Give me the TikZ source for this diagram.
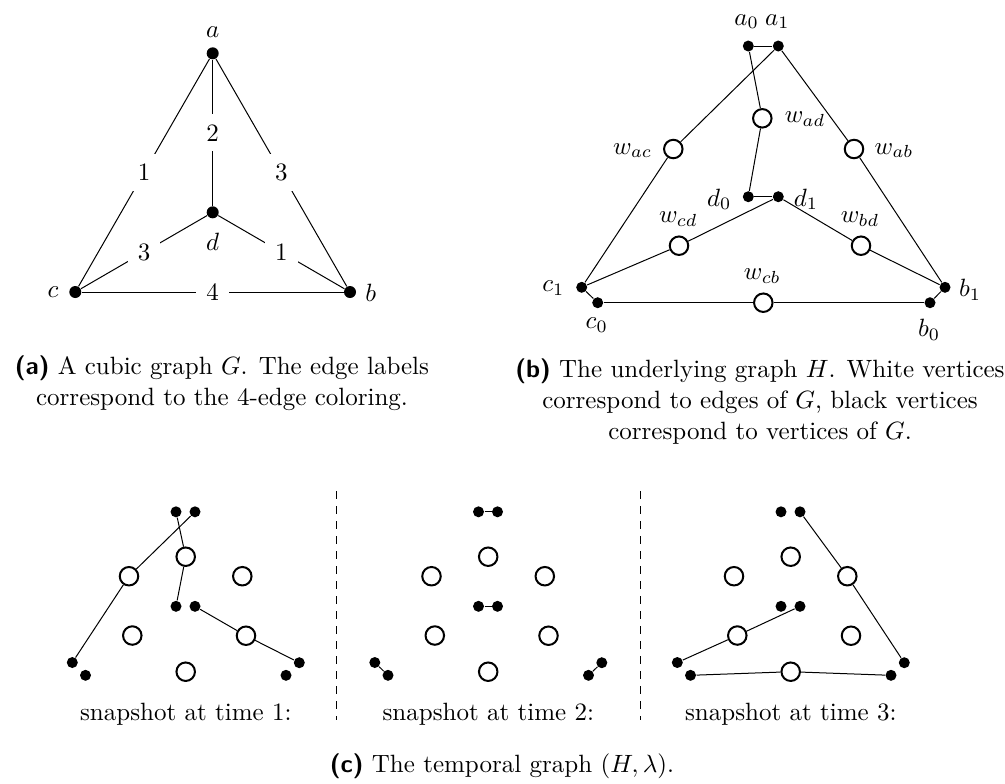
\documentclass[tikz,border=0pt]{standalone}
\begin{document}
\begin{tikzpicture}[x=0.4pt,y=-0.4pt,
  bva/.style={circle,fill=black,inner sep=0pt,minimum size=4.8pt},
  bv/.style={circle,fill=black,inner sep=0pt,minimum size=4.4pt},
  wv/.style={circle,draw=black,fill=white,line width=0.8pt,inner sep=0pt,minimum size=7.4pt},
  el/.style={fill=white,inner sep=4pt},
  lbl/.style={inner sep=0pt},
  capline/.style={anchor=base,inner sep=0pt},
  sep/.style={dashed,line width=0.4pt}]
\useasboundingbox (0,0) rectangle (1005,783);

% ---------- (a) ----------
\node[bva] (a) at (212.7,53.3) {};
\node[bva] (d) at (212.7,212.3) {};
\node[bva] (c) at (75.3,292) {};
\node[bva] (b) at (350,292) {};
\draw (a) -- node[el] (ea2) {2} (d);
\draw (a) -- node[el] (ea1) {1} (c);
\draw (a) -- node[el] (ea3) {3} (b);
\draw (d) -- node[el] (ed3) {3} (c);
\draw (d) -- node[el] (ed1) {1} (b);
\draw (c) -- node[el] (ec4) {4} (b);
\node[lbl] (la) at (212.7,31.7) {$a$};
\node[lbl] (ld) at (212.7,241.7) {$d$};
\node[lbl] (lc) at (53,292) {$c$};
\node[lbl] (lb) at (370.7,293) {$b$};

% ---------- (b) ----------
\node[bv] (a0) at (748.3,46) {};
\node[bv] (a1) at (778.3,46) {};
\node[wv] (wad) at (762.3,118.3) {};
\node[wv] (wac) at (673.3,149) {};
\node[wv] (wab) at (854,149) {};
\node[bv] (d0) at (748.3,196.7) {};
\node[bv] (d1) at (778.3,196.7) {};
\node[wv] (wcd) at (679,245.7) {};
\node[wv] (wbd) at (861,245.7) {};
\node[bv] (c1) at (581.7,287.3) {};
\node[bv] (b1) at (945,287.3) {};
\node[bv] (c0) at (597.7,302.7) {};
\node[bv] (b0) at (930,302.7) {};
\node[wv] (wcb) at (763.3,302.7) {};
\draw (a0) -- (a1);
\draw (a0) -- (wad) -- (d0);
\draw (d0) -- (d1);
\draw (a1) -- (wac) -- (c1);
\draw (a1) -- (wab) -- (b1);
\draw (d1) -- (wcd) -- (c1);
\draw (d1) -- (wbd) -- (b1);
\draw (c1) -- (c0);
\draw (c0) -- (wcb) -- (b0);
\draw (b0) -- (b1);
\node[lbl] (la0) at (746.7,21.7) {$a_0$};
\node[lbl] (la1) at (777.3,21.7) {$a_1$};
\node[lbl] (lwad) at (805,119) {$w_{ad}$};
\node[lbl] (lwac) at (632.7,150.7) {$w_{ac}$};
\node[lbl] (lwab) at (894,150.7) {$w_{ab}$};
\node[lbl] (ld0) at (719.3,199.3) {$d_0$};
\node[lbl] (ld1) at (806,199.3) {$d_1$};
\node[lbl] (lwcd) at (678.3,219) {$w_{cd}$};
\node[lbl] (lwbd) at (860,219) {$w_{bd}$};
\node[lbl] (lwcb) at (762.3,276) {$w_{cb}$};
\node[lbl] (lc1) at (553.3,288.3) {$c_1$};
\node[lbl] (lb1) at (970,290) {$b_1$};
\node[lbl] (lc0) at (596.7,325) {$c_0$};
\node[lbl] (lb0) at (929,330) {$b_0$};

% ---------- captions (a), (b) ----------
\node[capline] (capa1) at (222,374) {\textsf{\textbf{(a)}} A cubic graph $G$. The edge labels};
\node[capline] (capa2) at (222,405) {correspond to the 4-edge coloring.};
\node[capline] (capb1) at (760,377) {\textsf{\textbf{(b)}} The underlying graph $H$. White vertices};
\node[capline] (capb2) at (760,408) {correspond to edges of $G$, black vertices};
\node[capline] (capb3) at (760,439) {correspond to vertices of $G$.};

% ---------- (c) snapshots ----------
\foreach \i/\dx in {1/72.3,2/374.8,3/677.3}{
  \node[bv] (s\i c1) at ({\dx+0},662.5) {};
  \node[bv] (s\i c0) at ({\dx+13.2},675.3) {};
  \node[bv] (s\i a0) at ({\dx+103.7},511.8) {};
  \node[bv] (s\i a1) at ({\dx+122.7},511.8) {};
  \node[wv] (s\i wad) at ({\dx+113.4},556.7) {};
  \node[wv] (s\i wac) at ({\dx+56.7},576.2) {};
  \node[wv] (s\i wab) at ({\dx+170},576.2) {};
  \node[bv] (s\i d0) at ({\dx+103.7},606.3) {};
  \node[bv] (s\i d1) at ({\dx+122.7},606.3) {};
  \node[wv] (s\i wcd) at ({\dx+60},635.5) {};
  \node[wv] (s\i wbd) at ({\dx+173.7},635.7) {};
  \node[wv] (s\i wcb) at ({\dx+113.4},671.7) {};
  \node[bv] (s\i b0) at ({\dx+213.7},675.3) {};
  \node[bv] (s\i b1) at ({\dx+227},662.7) {};
  \node[capline] (s\i txt) at ({\dx+113.5},720) {snapshot at time \i:};
}
% time 1
\draw (s1a0) -- (s1wad) -- (s1d0);
\draw (s1a1) -- (s1wac) -- (s1c1);
\draw (s1d1) -- (s1wbd) -- (s1b1);
% time 2
\draw (s2a0) -- (s2a1);
\draw (s2d0) -- (s2d1);
\draw (s2c1) -- (s2c0);
\draw (s2b0) -- (s2b1);
% time 3
\draw (s3a1) -- (s3wab) -- (s3b1);
\draw (s3d1) -- (s3wcd) -- (s3c1);
\draw (s3c0) -- (s3wcb) -- (s3b0);

% separators
\coordinate (sepAt) at (336,491);
\coordinate (sepAb) at (336,720);
\coordinate (sepBt) at (640,491);
\coordinate (sepBb) at (640,720);
\draw[sep] (sepAt) -- (sepAb);
\draw[sep] (sepBt) -- (sepBb);

\node[capline] (capc) at (502,772) {\textsf{\textbf{(c)}} The temporal graph $(H,\lambda)$.};
\end{tikzpicture}
\end{document}
